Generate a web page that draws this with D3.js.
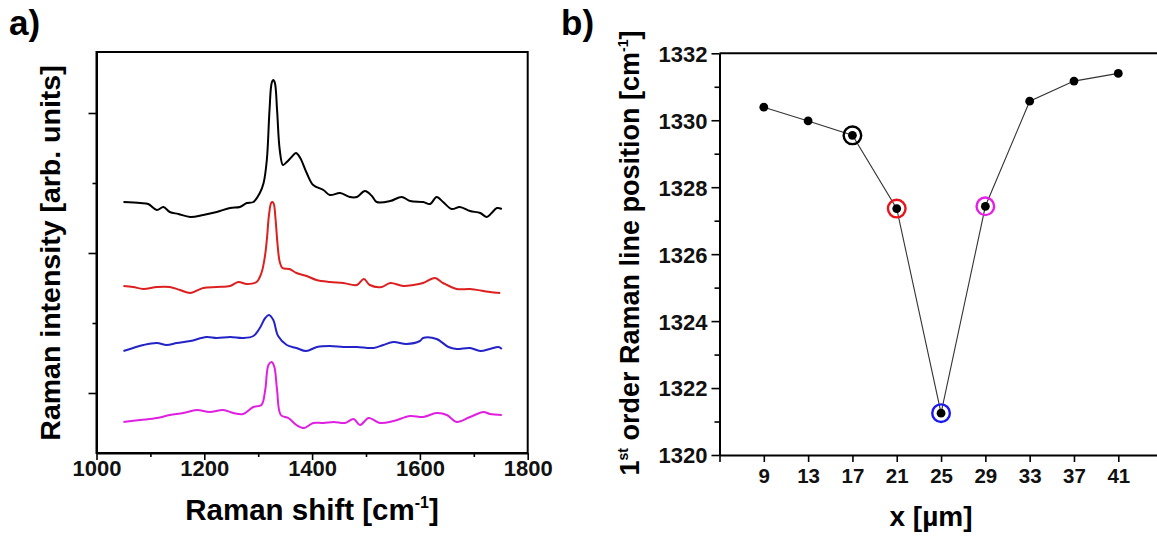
<!DOCTYPE html>
<html>
<head>
<meta charset="utf-8">
<script src="https://cdn.jsdelivr.net/npm/d3@7"></script>
<style>
  body { margin: 0; background: #fff; }
  svg { display: block; font-family: "Liberation Sans", Arial, sans-serif; font-weight: bold; }
</style>
</head>
<body>
<script>
// ---- panel a: Raman spectra (x = wavenumber, y = arb. intensity) ----
const blackShift = [1050,1081,1096,1112,1124,1136,1152,1174,1198,1223,1248,1266,1279,1291,1303,1310,1316,1321,1325,1328,1331,1335,1340,1346,1353,1362,1370,1378,1390,1402,1421,1433,1452,1470,1483,1498,1511,1520,1545,1566,1582,1606,1619,1631,1643,1659,1674,1693,1712,1724,1733,1743,1752];
const blackInt = [191,190,189,183,186,181,179,176,178,181,185,186,190,191,200,210,233,283,310,313,310,283,243,228,231,236,240,235,220,208,203,198,200,196,196,202,197,191,192,196,192,191,189,196,191,184,186,182,180,176,180,185,184];

const redShift = [1050,1068,1087,1112,1136,1155,1174,1198,1223,1248,1263,1279,1297,1306,1312,1316,1320,1324,1326.5,1329,1332,1336,1340,1345,1358,1371,1390,1408,1433,1458,1483,1496,1507,1529,1545,1569,1588,1606,1628,1643,1668,1693,1718,1730,1749];
const redInt = [107,106,104,106,106,103,100,105,106,107,111,109,111,120,135,153,178,190,191,189,175,148,131,125,124,120,117,113,111,110,108,114,108,106,110,107,108,110,115,110,104,104,102,101,100];

const blueShift = [1050,1068,1087,1112,1130,1149,1174,1204,1223,1248,1272,1291,1303,1313,1320,1328,1337,1353,1371,1389,1409,1433,1458,1483,1514,1532,1551,1575,1600,1606,1631,1653,1668,1693,1712,1730,1746,1752];
const blueInt = [42,45,48,50,48,50,52,56,55,56,55,57,65,75,78,73,57,48,45,42,46,47,46,46,45,48,51,49,52,55,54,46,44,45,42,44,46,44];

const magentaShift = [1050,1081,1112,1136,1161,1186,1210,1235,1254,1272,1291,1306,1313,1319,1325,1330,1335,1342,1356,1371,1385,1402,1421,1440,1461,1477,1489,1505,1526,1551,1582,1606,1631,1650,1668,1693,1718,1730,1752];
const magentaInt = [-29,-27,-25,-22,-20,-17,-19,-17,-20,-21,-14,-12,3,28,31,26,3,-22,-25,-32,-35,-30,-30,-29,-30,-26,-32,-25,-30,-28,-23,-24,-20,-22,-29,-24,-19,-21,-22];

const spectrumColors = ['#000000', '#dd1f1f', '#2323c8', '#e020e0'];

// ---- panel b: peak position vs x ----
const xPos = [9, 13, 17, 21, 25, 29, 33, 37, 41];
const peakPos = [1330.39, 1329.98, 1329.55, 1327.36, 1321.25, 1327.43, 1330.57, 1331.17, 1331.40];
const markedX = [17, 21, 25, 29];
const markedColors = ['#000000', '#e8141a', '#1a1af0', '#e61ee6'];

const aXTicks = [1000, 1100, 1200, 1300, 1400, 1500, 1600, 1700, 1800];
const aYTicks = [0, 70, 140, 210, 280];
const bXTicks = [5, 9, 13, 17, 21, 25, 29, 33, 37, 41, 45];
const bYTicks = [1320, 1321, 1322, 1323, 1324, 1325, 1326, 1327, 1328, 1329, 1330, 1331, 1332];

const W = 1157, H = 536;
const svg = d3.select('body').append('svg')
  .attr('width', W).attr('height', H);

// ================= panel a =================
const aX = d3.scaleLinear().domain([1000, 1800]).range([96.5, 527.7]);
const aY = d3.scaleLinear().domain([-60, 341]).range([453, 52]);

const spectra = [
  [blackShift, blackInt],
  [redShift, redInt],
  [blueShift, blueInt],
  [magentaShift, magentaInt]
];

const line = d3.line()
  .x(d => aX(d[0]))
  .y(d => aY(d[1]))
  .curve(d3.curveCatmullRom.alpha(0.5));

spectra.forEach((s, i) => {
  const pts = s[0].map((x, j) => [x, s[1][j]]);
  svg.append('path')
    .datum(pts)
    .attr('d', line)
    .attr('fill', 'none')
    .attr('stroke', spectrumColors[i])
    .attr('stroke-width', 2)
    .attr('stroke-linejoin', 'round');
});

const aXAxis = svg.append('g')
  .attr('transform', `translate(0,${aY.range()[0]})`)
  .call(d3.axisBottom(aX).tickValues(aXTicks)
    .tickFormat(d => d % 200 === 0 ? d : '')
    .tickSizeOuter(0));
aXAxis.selectAll('.tick line').attr('y2', d => d % 200 === 0 ? 7 : 4);

const aYAxis = svg.append('g')
  .attr('transform', `translate(${aX.range()[0]},0)`)
  .call(d3.axisLeft(aY).tickValues(aYTicks).tickFormat('').tickSizeOuter(0));
aYAxis.selectAll('.tick line').attr('x2', d => d % 140 === 0 ? -8 : -4);

svg.append('rect')
  .attr('x', aX.range()[0]).attr('y', aY.range()[1])
  .attr('width', aX.range()[1] - aX.range()[0])
  .attr('height', aY.range()[0] - aY.range()[1])
  .attr('fill', 'none').attr('stroke', '#000').attr('stroke-width', 2);

// ================= panel b =================
const bX = d3.scaleLinear().domain([5, 45]).range([719.5, 1162.6]);
const bY = d3.scaleLinear().domain([1320, 1332]).range([455, 53.3]);

const bXAxis = svg.append('g')
  .attr('transform', `translate(0,${bY.range()[0]})`)
  .call(d3.axisBottom(bX).tickValues(bXTicks)
    .tickFormat(d => (d === 5 || d === 45) ? '' : d)
    .tickSize(7).tickSizeOuter(0));

const bYAxis = svg.append('g')
  .attr('transform', `translate(${bX.range()[0]},0)`)
  .call(d3.axisLeft(bY).tickValues(bYTicks)
    .tickFormat(d => d % 2 === 0 ? d : '')
    .tickSizeOuter(0));
bYAxis.selectAll('.tick line').attr('x2', d => d % 2 === 0 ? -8 : -5);

svg.append('line')
  .attr('x1', bX.range()[0]).attr('x2', bX.range()[1])
  .attr('y1', bY.range()[1]).attr('y2', bY.range()[1])
  .attr('stroke', '#000').attr('stroke-width', 2);

[aXAxis, aYAxis, bXAxis, bYAxis].forEach(g => {
  g.select('.domain').attr('stroke-width', 2);
  g.selectAll('.tick line').attr('stroke-width', 1.6);
  g.selectAll('.tick text')
    .attr('font-family', '"Liberation Sans", Arial, sans-serif')
    .attr('font-weight', 'bold')
    .attr('fill', '#111');
});
aXAxis.selectAll('.tick text').attr('font-size', 22).attr('y', 7).attr('dy', '0.72em');
bXAxis.selectAll('.tick text').attr('font-size', 20.5).attr('dy', '0.9em');
bYAxis.selectAll('.tick text').attr('font-size', 22).attr('x', -12).attr('dy', '0.36em');

const peakLine = d3.line().x((d, i) => bX(xPos[i])).y(d => bY(d));
svg.append('path')
  .datum(peakPos)
  .attr('d', peakLine)
  .attr('fill', 'none')
  .attr('stroke', '#333')
  .attr('stroke-width', 1.1);

svg.selectAll('.ring')
  .data(markedX)
  .enter()
  .append('circle')
  .attr('class', 'ring')
  .attr('cx', d => bX(d))
  .attr('cy', d => bY(peakPos[xPos.indexOf(d)]))
  .attr('r', 8.8)
  .attr('fill', 'none')
  .attr('stroke', (d, i) => markedColors[i])
  .attr('stroke-width', 2.4);

svg.selectAll('.dot')
  .data(peakPos)
  .enter()
  .append('circle')
  .attr('class', 'dot')
  .attr('cx', (d, i) => bX(xPos[i]))
  .attr('cy', d => bY(d))
  .attr('r', 4.4)
  .attr('fill', '#000');

// ================= labels =================
svg.append('text').text('a)')
  .attr('x', 9).attr('y', 35).attr('font-size', 35);
svg.append('text').text('b)')
  .attr('x', 561).attr('y', 35).attr('font-size', 35);

const aYLabel = svg.append('text')
  .attr('transform', 'translate(60,253)rotate(-90)')
  .attr('text-anchor', 'middle')
  .attr('font-size', 28.5);
aYLabel.append('tspan').text('Raman intensity [arb. units]');

const aXLabel = svg.append('text')
  .attr('x', 312).attr('y', 520)
  .attr('text-anchor', 'middle')
  .attr('font-size', 29.5);
aXLabel.append('tspan').text('Raman shift [cm');
aXLabel.append('tspan').text('-1').attr('font-size', 16).attr('dy', -12);
aXLabel.append('tspan').text(']').attr('dy', 12);

const bYLabel = svg.append('text')
  .attr('transform', 'translate(639,253)rotate(-90)')
  .attr('text-anchor', 'middle')
  .attr('font-size', 27);
bYLabel.append('tspan').text('1');
bYLabel.append('tspan').text('st').attr('font-size', 14).attr('dy', -11);
bYLabel.append('tspan').text(' order Raman line position [cm').attr('dy', 11);
bYLabel.append('tspan').text('-1').attr('font-size', 14).attr('dy', -11);
bYLabel.append('tspan').text(']').attr('dy', 11);

svg.append('text').text('x [µm]')
  .attr('x', 931).attr('y', 526)
  .attr('text-anchor', 'middle')
  .attr('font-size', 28);
</script>
</body>
</html>
